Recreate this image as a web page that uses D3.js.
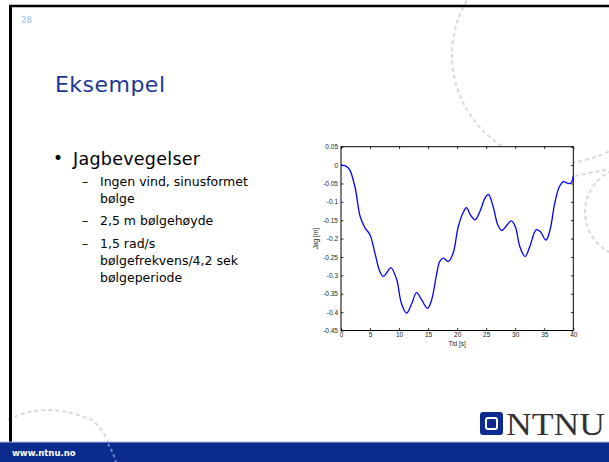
<!DOCTYPE html>
<html><head><meta charset="utf-8">
<script src="https://cdn.jsdelivr.net/npm/d3@7"></script>
<style>html,body{margin:0;padding:0;background:#fff;overflow:hidden}</style>
</head><body>
<script>
// Data
const timeS = [0,0.8,1.5,2.4,3.3,4.1,5.0,5.85,6.7,7.3,8.0,8.6,9.6,10.4,11.3,12.2,13.0,13.9,14.9,15.6,16.5,17.0,17.6,18.5,19.3,20.2,21.1,21.6,22.3,23.1,23.9,24.8,25.4,26.2,27.0,27.7,28.4,29.3,30.0,30.8,31.7,32.5,33.6,34.3,35.3,36.0,36.8,37.6,38.3,39.1,39.6,40];
const surge = [0,-0.002,-0.013,-0.059,-0.14,-0.17,-0.19,-0.24,-0.29,-0.303,-0.29,-0.279,-0.312,-0.376,-0.403,-0.376,-0.347,-0.367,-0.39,-0.367,-0.294,-0.262,-0.253,-0.262,-0.24,-0.167,-0.127,-0.116,-0.136,-0.149,-0.127,-0.09,-0.08,-0.113,-0.163,-0.178,-0.167,-0.152,-0.167,-0.222,-0.249,-0.222,-0.176,-0.181,-0.204,-0.176,-0.104,-0.059,-0.045,-0.05,-0.049,-0.03];
const xTicks = [0,5,10,15,20,25,30,35,40];
const yTicks = [0.05,0,-0.05,-0.1,-0.15,-0.2,-0.25,-0.3,-0.35,-0.4,-0.45];
const yTickLabels = ["0.05","0","-0.05","-0.1","-0.15","-0.2","-0.25","-0.3","-0.35","-0.4","-0.45"];
const slideNumber = "28";
const slideTitle = "Eksempel";
const bulletMain = "Jagbevegelser";
const subBullets = [["Ingen vind, sinusformet","bølge"],["2,5 m bølgehøyde"],["1,5 rad/s","bølgefrekvens/4,2 sek","bølgeperiode"]];
const xLabel = "Tid [s]";
const yLabel = "Jag [m]";

const W = 609, H = 462;
const svg = d3.select("body").append("svg").attr("width", W).attr("height", H);

// decorative dashed arcs
const deco = svg.append("g").attr("fill","none").attr("stroke","#d9d9d9").attr("stroke-width",2).attr("stroke-dasharray","4,3");
deco.append("circle").attr("cx",560).attr("cy",55).attr("r",108);
deco.append("circle").attr("cx",630).attr("cy",212).attr("r",45);
deco.append("path").attr("d","M575,176 Q592,172 612,169");
deco.append("path").attr("d","M8,420 Q45,400 92,420 Q110,435 118,470");

// slide borders
svg.append("line").attr("x1",9).attr("x2",W).attr("y1",6).attr("y2",6).attr("stroke","#000").attr("stroke-width",2.5);
svg.append("line").attr("x1",10.5).attr("x2",10.5).attr("y1",5).attr("y2",443).attr("stroke","#000").attr("stroke-width",3);

// bottom bar
svg.append("rect").attr("x",0).attr("y",442).attr("width",W).attr("height",20).attr("fill","#0b2b8f");
svg.append("line").attr("x1",0).attr("x2",W).attr("y1",442).attr("y2",442).attr("stroke","#a9bde6").attr("stroke-width",1);
svg.append("path").attr("d","M108,444 Q113,452 116,462").attr("fill","none").attr("stroke","#6f86c8").attr("stroke-width",2).attr("stroke-dasharray","3,3");
svg.append("text").attr("x",12).attr("y",456).text("www.ntnu.no").attr("fill","#fff").attr("font-family","DejaVu Sans").attr("font-weight","bold").attr("font-size",8.5);

// slide number & title
svg.append("text").attr("x",21).attr("y",23).text(slideNumber).attr("fill","#b8d0ea").attr("font-family","DejaVu Sans").attr("font-weight","bold").attr("font-size",8);
svg.append("text").attr("x",55).attr("y",92).text(slideTitle).attr("fill","#1a3796").attr("font-family","DejaVu Sans").attr("font-size",22).attr("textLength",110);

// bullets
svg.append("text").attr("x",53).attr("y",164).text("•").attr("font-family","DejaVu Sans").attr("font-size",17);
svg.append("text").attr("x",73).attr("y",165).text(bulletMain).attr("font-family","DejaVu Sans").attr("font-size",17.5).attr("textLength",127);
const lineY = [[186,203],[225],[248,265,282]];
subBullets.forEach((lines,i) => {
  svg.append("text").attr("x",82).attr("y",lineY[i][0]).text("–").attr("font-family","DejaVu Sans").attr("font-size",12.5);
  lines.forEach((l,j) => {
    svg.append("text").attr("x",100).attr("y",lineY[i][j]).text(l).attr("font-family","DejaVu Sans").attr("font-size",12.5);
  });
});

// NTNU logo
svg.append("rect").attr("x",480).attr("y",412).attr("width",23).attr("height",23).attr("rx",3).attr("fill","#0b2b8f");
svg.append("rect").attr("x",486).attr("y",418).attr("width",11).attr("height",11).attr("rx",2).attr("fill","none").attr("stroke","#fff").attr("stroke-width",2);
svg.append("text").attr("x",506).attr("y",435).text("NTNU").attr("font-family","Liberation Serif").attr("font-size",32).attr("fill","#333").attr("textLength",99).attr("lengthAdjust","spacingAndGlyphs");

// chart
const L = 341, R = 573.3, T = 146.7, B = 330.5;
const x = d3.scaleLinear().domain([0,40]).range([L,R]);
const y = d3.scaleLinear().domain([-0.45,0.05]).range([B,T]);
svg.append("rect").attr("x",L).attr("y",T).attr("width",R-L).attr("height",B-T).attr("fill","#fff");

const fmtY = d => yTickLabels[yTicks.findIndex(v => Math.abs(v-d)<1e-9)];
const axStyle = g => {
  g.select(".domain").remove();
  g.selectAll("line").attr("stroke","#000").attr("stroke-width",0.8);
  g.selectAll("text").attr("font-family","Liberation Sans, Arial").attr("font-size",6.5).attr("fill","#222");
};
svg.append("g").attr("transform",`translate(0,${B})`).call(d3.axisBottom(x).tickValues(xTicks).tickSize(-2.5).tickPadding(2)).call(axStyle);
svg.append("g").attr("transform",`translate(0,${T})`).call(d3.axisTop(x).tickValues(xTicks).tickSize(-2.5).tickFormat("")).call(axStyle);
svg.append("g").attr("transform",`translate(${L},0)`).call(d3.axisLeft(y).tickValues(yTicks).tickSize(-2.5).tickPadding(3).tickFormat(fmtY)).call(axStyle);
svg.append("g").attr("transform",`translate(${R},0)`).call(d3.axisRight(y).tickValues(yTicks).tickSize(-2.5).tickFormat("")).call(axStyle);
svg.append("rect").attr("x",L).attr("y",T).attr("width",R-L).attr("height",B-T).attr("fill","none").attr("stroke","#000").attr("stroke-width",1);

const data = timeS.map((t,i)=>[t,surge[i]]);
svg.append("path").datum(data).attr("fill","none").attr("stroke","#0000ff").attr("stroke-width",1.3)
  .attr("d", d3.line().x(d=>x(d[0])).y(d=>y(d[1])).curve(d3.curveCatmullRom.alpha(0.5)));

svg.append("text").attr("x",(L+R)/2).attr("y",346).attr("text-anchor","middle").text(xLabel).attr("font-family","Liberation Sans, Arial").attr("font-size",6.5).attr("fill","#222");
svg.append("text").attr("transform",`translate(318,${(T+B)/2}) rotate(-90)`).attr("text-anchor","middle").text(yLabel).attr("font-family","Liberation Sans, Arial").attr("font-size",6.5).attr("fill","#222");
</script>
</body></html>
